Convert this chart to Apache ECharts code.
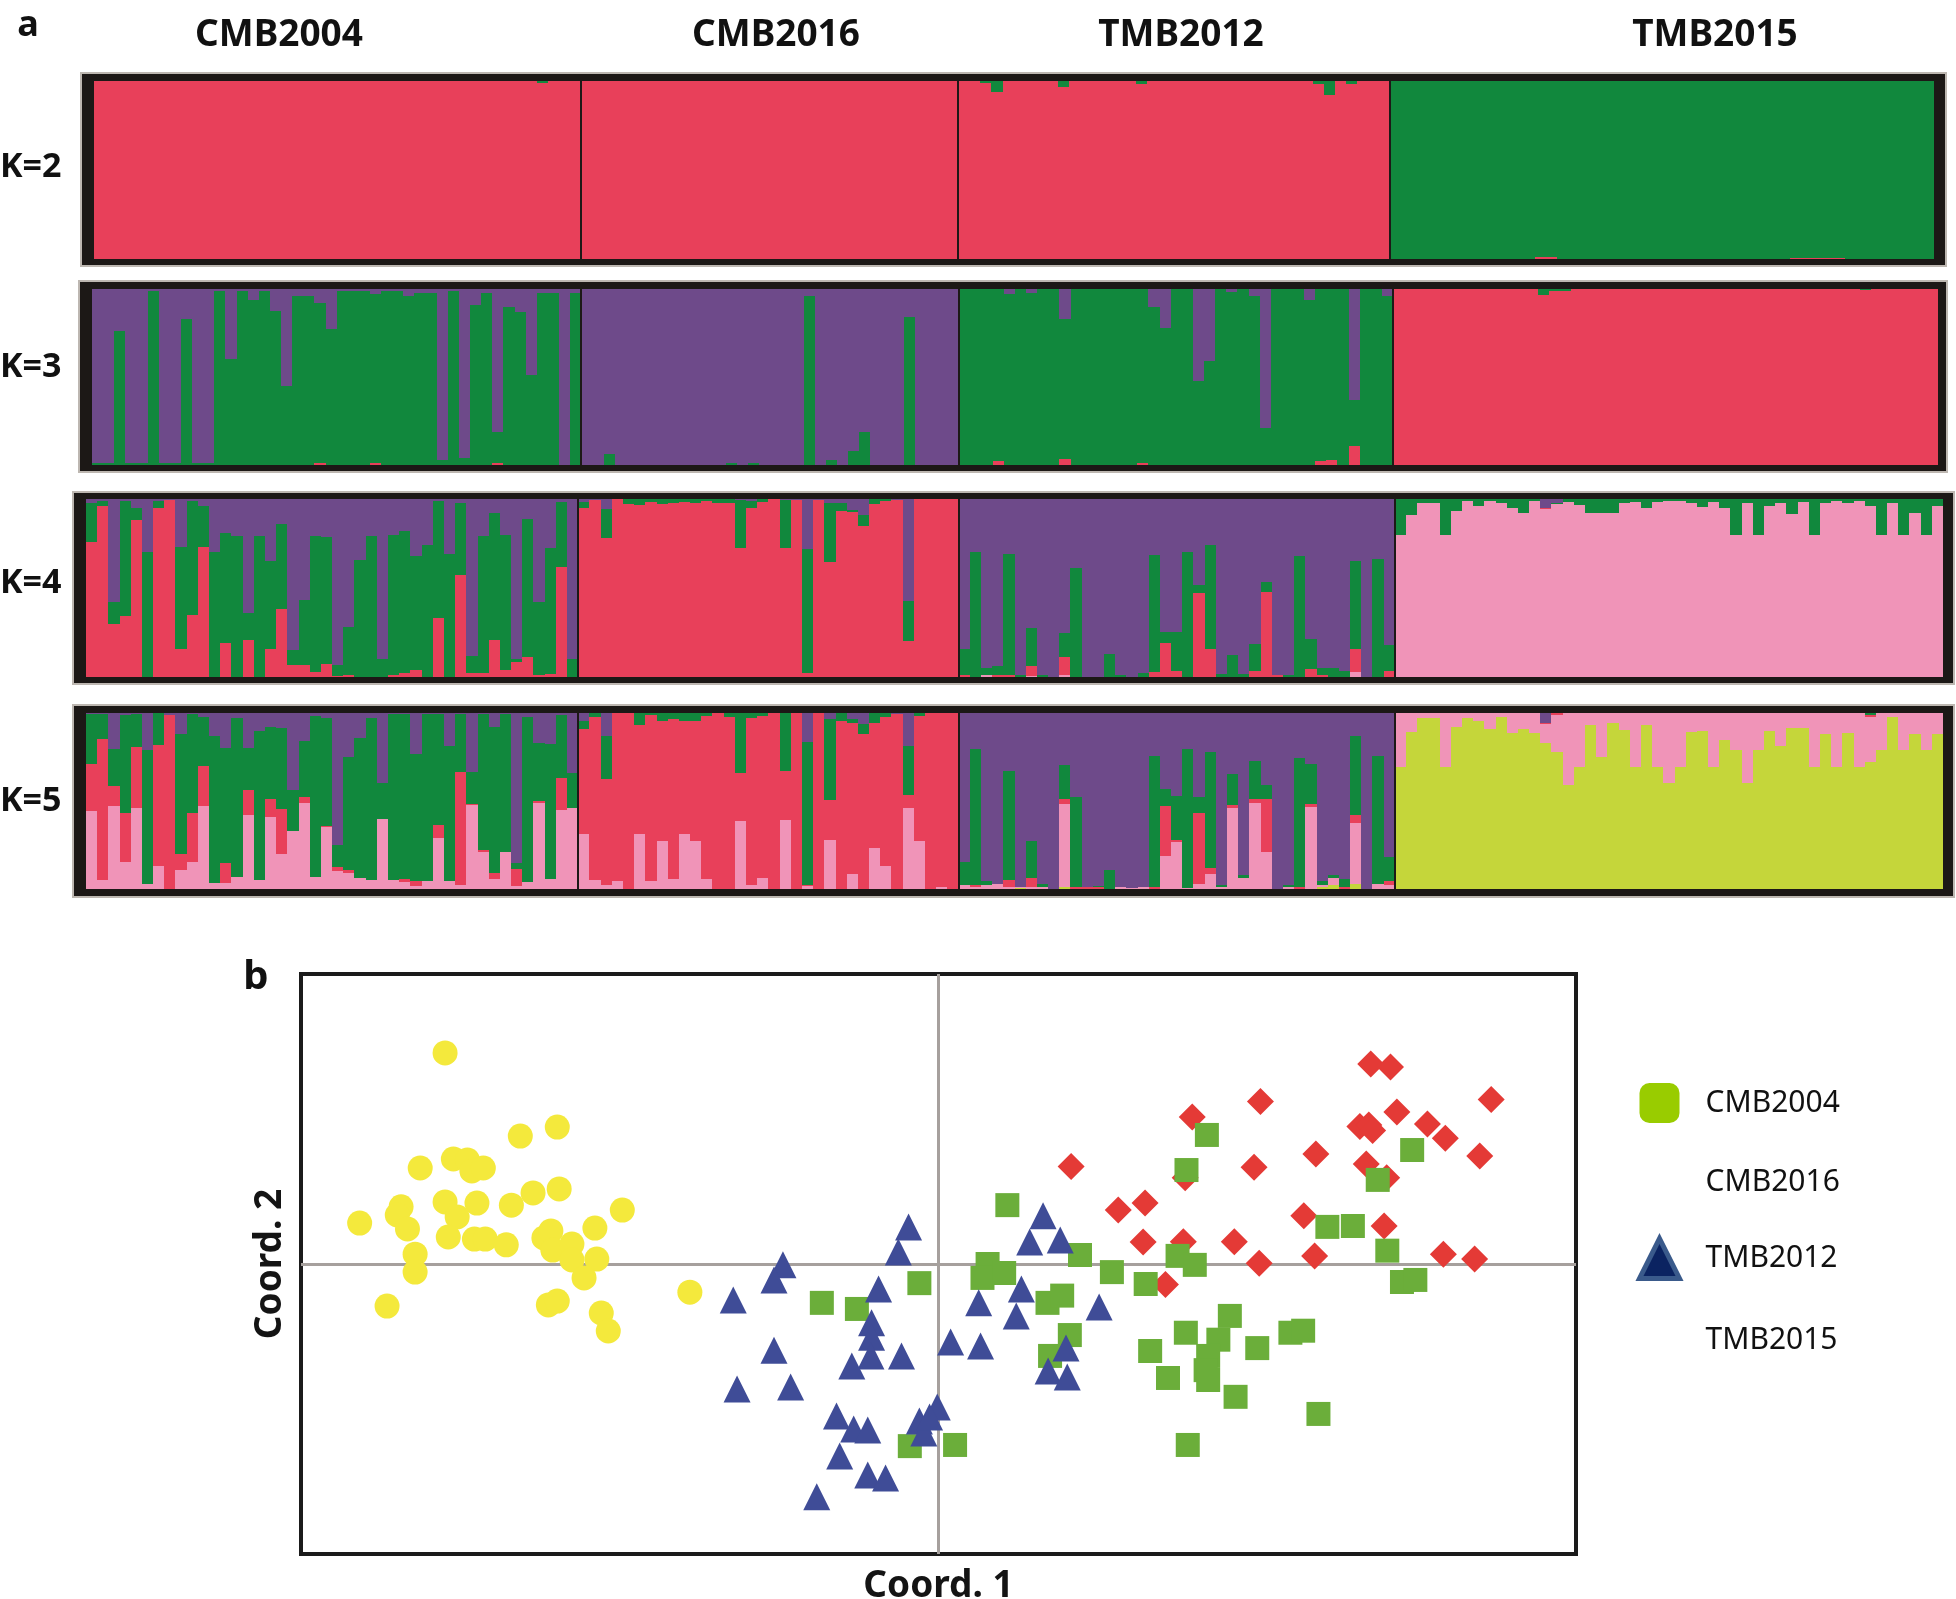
<!DOCTYPE html>
<html><head><meta charset="utf-8">
<script src="https://cdn.jsdelivr.net/npm/echarts@6/dist/echarts.min.js"></script>
<style>html,body{margin:0;padding:0;background:#fff;}#chart{width:1956px;height:1599px;}</style>
</head><body><div id="chart"></div>
<script>
// ---------------- DATA ----------------
const popNames = ['CMB2004', 'CMB2016', 'TMB2012', 'TMB2015'];
const popSizes = [44, 34, 39, 49];
const kLabels = ['K=2', 'K=3', 'K=4', 'K=5'];

// STRUCTURE membership coefficients, stacked bottom -> top; top cluster is the remainder to 1
// K=2 : red, (green)
const k2_red = [
  1,1,1,1,1,1,1,1,1,1, 1,1,1,1,1,1,1,1,1,1, 1,1,1,1,1,1,1,1,1,1, 1,1,1,1,1,1,1,1,1,1, 0.99,1,1,1,
  1,1,1,1,1,1,1,1,1,1, 1,1,1,1,1,1,1,1,1,1, 1,1,1,1,1,1,1,1,1,1, 1,1,1,1,
  1,1,0.99,0.94,1,1,1,1,1,0.965, 1,1,1,1,1,1,0.985,1,1,1, 1,1,1,1,1,1,1,1,1,1, 1,1,0.985,0.92,1,0.985,1,1,1,
  0,0,0,0,0,0,0,0,0,0, 0,0,0,0.01,0.01,0,0,0,0,0, 0,0,0,0,0,0,0,0,0,0, 0,0,0,0,0,0,0.005,0.005,0.005,0.005, 0.005,0,0,0,0,0,0,0,0
];
// K=3 : red, green, (purple)
const k3_red = [
  0,0,0,0,0,0,0,0,0,0, 0,0,0,0,0,0,0,0,0,0, 0.01,0,0,0,0,0.01,0,0,0,0, 0,0,0,0,0,0,0.01,0,0,0, 0,0,0,0,
  0,0,0,0,0,0,0,0,0,0, 0,0,0,0,0,0,0,0,0,0, 0,0,0,0,0,0,0,0,0,0, 0,0,0,0,
  0,0,0,0.02,0,0,0,0,0,0.035, 0,0,0,0,0,0,0.01,0,0,0, 0,0,0,0,0,0,0,0,0,0, 0,0,0.02,0.03,0,0.11,0,0,0,
  1,1,1,1,1,1,1,1,1,1, 1,1,1,0.965,0.99,0.99,1,1,1,1, 1,1,1,1,1,1,1,1,1,1, 1,1,1,1,1,1,1,1,1,1, 1,1,0.995,1,1,1,1,1,1
];
const k3_green = [
  0.01,0.01,0.76,0.01,0.01,0.99,0.01,0.01,0.83,0.01, 0.01,0.99,0.60,0.99,0.94,0.99,0.875,0.45,0.96,0.96,
  0.91,0.77,0.99,0.99,0.99,0.96,0.99,0.99,0.96,0.98, 0.98,0.03,0.99,0.04,0.91,0.98,0.18,0.90,0.87,0.51, 0.98,0.98,0,0.98,
  0,0,0.06,0,0,0,0,0,0,0, 0,0,0,0.01,0,0.01,0,0,0,0, 0.96,0,0.03,0,0.08,0.19,0,0,0,0.84, 0,0,0,0,
  1,1,1,0.98,0.97,1,0.975,1,1,0.795, 1,1,1,1,1,1,0.99,0.90,0.78,1, 1,0.48,0.59,1,0.985,1,0.96,0.21,1,1, 1,0.94,0.98,0.97,1,0.26,1,1,0.96,
  0,0,0,0,0,0,0,0,0,0, 0,0,0,0.035,0.01,0.01,0,0,0,0, 0,0,0,0,0,0,0,0,0,0, 0,0,0,0,0,0,0,0,0,0, 0,0,0.005,0,0,0,0,0,0
];
// K=4 : pink, red, green, (purple)
const k4_pink = [
  0,0,0,0,0,0,0,0,0,0, 0,0,0,0,0,0,0,0,0,0, 0,0,0,0,0,0,0,0,0,0, 0,0,0,0,0,0,0,0,0,0, 0,0,0,0,
  0,0,0,0,0,0,0,0,0,0, 0,0,0,0,0,0,0,0,0,0, 0,0,0,0,0,0,0,0,0,0, 0,0,0,0,
  0,0,0.01,0,0,0,0.005,0,0,0.01, 0,0,0,0,0,0,0,0,0,0, 0,0,0,0,0,0,0,0,0,0, 0,0,0,0,0,0.03,0,0,0,
  0.80,0.91,0.975,0.98,0.80,0.93,0.99,0.96,0.99,0.975, 0.95,0.92,0.99,0.945,0.97,0.985,0.965,0.92,0.92,0.92,
  0.98,0.985,0.95,0.985,0.99,0.99,0.98,0.955,0.985,0.95, 0.80,0.975,0.80,0.96,0.975,0.915,0.985,0.80,0.98,0.99,
  0.98,0.99,0.96,0.80,0.98,0.80,0.92,0.80,0.96
];
const k4_red = [
  0.76,0.96,0.30,0.34,0.88,0,0.95,0.995,0.16,0.35, 0.73,0,0.19,0,0.21,0,0.16,0.38,0.07,0.07,
  0.03,0.075,0.005,0.01,0,0,0,0.01,0.02,0.04, 0,0.33,0,0.575,0.02,0.02,0.21,0.04,0.085,0.11, 0.01,0.015,0.62,0,
  0.95,0.995,0.78,1,0.97,0.965,0.985,0.97,0.98,0.985, 0.98,0.99,0.975,0.98,0.725,0.95,0.985,1,0.725,0.995,
  0.02,0.995,0.645,0.93,0.925,0.85,0.97,0.99,0.995,0.20, 1,1,1,1,
  0.01,0,0,0.01,0.01,0,0.055,0,0,0.105, 0,0,0,0,0,0,0,0.03,0.19,0.035, 0,0.47,0.16,0,0,0,0.035,0.48,0.01,0, 0,0.045,0.01,0,0,0.13,0,0,0.035,
  0,0,0,0,0,0,0,0,0,0, 0,0,0,0.005,0,0,0,0,0,0, 0,0,0,0,0,0,0,0,0,0, 0,0,0,0,0,0,0,0,0,0, 0,0,0,0,0,0,0,0,0
];
const k4_green = [
  0.215,0.03,0.12,0.65,0.07,0.70,0.04,0,0.57,0.64, 0.23,0.70,0.62,0.79,0.15,0.79,0.49,0.48,0.08,0.36,
  0.76,0.71,0.06,0.27,0.66,0.79,0.10,0.79,0.80,0.64, 0.74,0.66,0.69,0.405,0.10,0.77,0.71,0.76,0.015,0.78, 0.41,0.71,0.365,0.10,
  0.035,0,0.165,0,0.03,0.035,0.015,0.03,0.02,0.015, 0.02,0.01,0.025,0.02,0.27,0.04,0.015,0,0.27,0,
  0.70,0,0.33,0.05,0.015,0.06,0.03,0.01,0,0.225, 0,0,0,0,
  0.15,0.70,0.04,0.05,0.68,0.01,0.215,0.01,0,0.13, 0.61,0,0,0.13,0.01,0,0.025,0.655,0.065,0.22,
  0.70,0.045,0.58,0.015,0.125,0.015,0.15,0.055,0,0.01, 0.68,0.17,0.04,0.05,0.035,0.49,0,0.665,0.145,
  0.20,0.09,0.025,0.02,0.20,0.07,0.01,0.04,0.01,0.025, 0.05,0.08,0.01,0,0.01,0.015,0.035,0.08,0.08,0.08,
  0.02,0.015,0.05,0.015,0.01,0.01,0.02,0.045,0.015,0.05, 0.20,0.025,0.20,0.04,0.025,0.085,0.015,0.20,0.02,0.01,
  0.02,0.01,0.04,0.20,0.02,0.20,0.08,0.20,0.04
];
// K=5 : yellow-green, pink, red, green, (purple)
const k5_ygreen = [
  0,0,0,0,0,0,0,0,0,0, 0,0,0,0,0,0,0,0,0,0, 0,0,0,0,0,0,0,0,0,0, 0,0,0,0,0,0,0,0,0,0, 0,0,0,0,
  0,0,0,0,0,0,0,0,0,0, 0,0,0,0,0,0,0,0,0,0, 0,0,0,0,0,0,0,0,0,0, 0,0,0,0,
  0,0,0,0,0,0.005,0,0,0,0.013, 0,0,0,0,0,0,0,0,0,0, 0,0,0,0,0,0,0,0,0,0, 0,0,0.013,0.025,0,0.03,0,0,0,
  0.695,0.89,0.97,0.97,0.695,0.92,0.97,0.955,0.91,0.975, 0.885,0.91,0.885,0.83,0.78,0.59,0.695,0.93,0.75,0.945,
  0.905,0.695,0.93,0.695,0.60,0.695,0.89,0.90,0.695,0.845, 0.79,0.605,0.79,0.90,0.815,0.915,0.915,0.695,0.88,0.695,
  0.885,0.695,0.72,0.79,0.975,0.79,0.88,0.79,0.88
];
const k5_pink = [
  0.445,0.05,0.47,0.155,0.46,0.03,0.13,0,0.11,0.155, 0.47,0.035,0.035,0.07,0.42,0.05,0.41,0.20,0.33,0.49,
  0.07,0.35,0.105,0.09,0.06,0.05,0.40,0.05,0.04,0.015, 0.045,0.29,0.045,0.025,0.475,0.21,0.055,0.21,0.015,0.04, 0.49,0.055,0.45,0.46,
  0.31,0.05,0.025,0.045,0,0.315,0.045,0.27,0.055,0.315, 0.27,0.055,0,0,0.385,0.02,0.06,0,0.39,0,
  0.015,0,0.28,0,0.085,0,0.235,0.13,0,0.46, 0.27,0,0.01,0,
  0.02,0.013,0.023,0.026,0.01,0.005,0.013,0.01,0,0.47, 0,0,0,0,0.01,0.005,0.013,0,0.19,0.265,
  0.005,0.03,0.085,0.01,0.46,0.06,0.49,0.21,0,0.01, 0,0.465,0.01,0.035,0,0.345,0,0.03,0.025,
  0.305,0.11,0.03,0.03,0.305,0.08,0.03,0.045,0.09,0.025, 0.115,0.09,0.115,0.105,0.21,0.41,0.305,0.07,0.25,0.055,
  0.095,0.305,0.07,0.305,0.40,0.305,0.11,0.10,0.305,0.155, 0.21,0.395,0.21,0.10,0.185,0.085,0.085,0.305,0.12,0.305,
  0.115,0.305,0.26,0.21,0.025,0.21,0.12,0.21,0.12
];
const k5_red = [
  0.265,0.805,0.115,0.275,0.345,0,0.69,0.99,0.09,0.275, 0.23,0,0.115,0,0.145,0,0.10,0.255,0,0.035,
  0,0.01,0.02,0.02,0,0,0,0,0.015,0.03, 0,0.075,0,0.64,0.01,0.01,0.035,0,0.10,0, 0.01,0,0.18,0,
  0.60,0.925,0.60,0.955,1,0.615,0.945,0.685,0.91,0.64, 0.685,0.93,1,0.975,0.275,0.95,0.925,1,0.28,1,
  0.01,1,0.225,0.955,0.86,0.88,0.71,0.845,0.995,0.075, 0.715,1,0.99,1,
  0,0.01,0,0,0.04,0,0.05,0,0,0.03, 0.013,0.01,0.01,0,0,0,0,0.013,0.28,0.013,
  0,0.40,0.035,0,0.015,0,0.02,0.30,0,0, 0.01,0.02,0,0.005,0.013,0.045,0,0,0.02,
  0,0,0,0,0,0,0,0,0,0, 0,0,0,0.01,0.01,0,0,0,0,0, 0,0,0,0,0,0,0,0,0,0, 0,0,0,0,0,0,0,0,0,0, 0,0,0.01,0,0,0,0,0,0
];
const k5_green = [
  0.285,0.14,0.21,0.56,0.19,0.76,0.18,0,0.68,0.565, 0.28,0.835,0.65,0.90,0.235,0.85,0.41,0.46,0.23,0.315,
  0.915,0.61,0.125,0.64,0.80,0.92,0.20,0.945,0.94,0.72, 0.95,0.63,0.77,0.33,0.18,0.775,0.83,0.785,0.03,0.94, 0.33,0.77,0.36,0.20,
  0.045,0.025,0.245,0,0,0.07,0.01,0.045,0.035,0.045, 0.045,0.015,0,0.025,0.34,0.03,0.015,0,0.33,0,
  0.81,0,0.46,0.045,0.02,0.055,0.055,0.025,0,0.275, 0.015,0,0,0,
  0.135,0.775,0.02,0,0.62,0,0.21,0.02,0,0.19, 0.51,0,0.005,0.11,0,0,0,0.745,0.10,0.25,
  0.79,0.09,0.66,0.015,0.18,0.02,0.215,0.08,0,0.01, 0.735,0.225,0.02,0.015,0.045,0.45,0,0.725,0.135,
  0,0,0,0,0,0,0,0,0,0, 0,0,0,0,0,0,0,0,0,0, 0,0,0,0,0,0,0,0,0,0, 0,0,0,0,0,0,0,0,0,0, 0,0,0.01,0,0,0,0,0,0
];

// PCoA coordinates [Coord.1, Coord.2]
const pcoaCMB2004 = [[-0.183,-0.134],[-0.128,-0.155],[-0.030,-0.066],[-0.045,-0.628],[0.026,-0.624],[0.108,0.203],[0.077,0.000],[0.069,-0.048],[0.103,-0.031],[0.222,0.031],[0.272,-0.028],[0.325,-0.069],[0.375,0.028],[0.402,-0.003],[0.171,-0.134],[0.194,-0.109],[0.206,-0.245],[0.175,-0.317],[0.421,0.445],[0.389,0.324],[0.610,0.128],[0.650,0.131],[0.689,0.290],[0.743,0.393],[0.704,0.046],[0.727,-0.062],[0.748,-0.055],[0.332,-0.300],[0.388,-0.237],[0.457,-0.179],[0.439,-0.261],[0.423,-0.317],[0.419,-0.366],[0.423,-0.400],[0.360,-0.393],[0.500,-0.290],[0.552,-0.237],[0.572,-0.230],[0.466,-0.458],[0.596,-0.517],[0.391,-0.624]];
const pcoaCMB2016 = [[0.678,0.690],[0.709,0.679],[0.505,0.560],[0.867,0.567],[0.398,0.507],[0.719,0.524],[0.661,0.474],[0.675,0.479],[0.681,0.460],[0.767,0.483],[0.795,0.434],[0.208,0.336],[0.495,0.334],[0.592,0.379],[0.849,0.372],[0.671,0.345],[0.703,0.297],[0.387,0.297],[0.282,0.186],[0.324,0.210],[0.573,0.166],[0.699,0.131],[0.321,0.076],[0.384,0.077],[0.464,0.077],[0.590,0.028],[0.503,0.003],[0.792,0.034],[0.841,0.017],[0.356,-0.071]];
const pcoaTMB2012 = [[-0.047,0.128],[-0.063,0.041],[-0.244,-0.003],[-0.258,-0.055],[-0.322,-0.124],[-0.094,-0.086],[-0.105,-0.203],[-0.105,-0.253],[-0.106,-0.317],[-0.136,-0.352],[-0.058,-0.317],[-0.258,-0.297],[-0.316,-0.431],[-0.232,-0.424],[-0.160,-0.524],[-0.133,-0.569],[-0.111,-0.572],[-0.155,-0.662],[-0.111,-0.728],[-0.083,-0.738],[-0.191,-0.803],[-0.030,-0.541],[-0.023,-0.583],[-0.002,-0.493],[-0.014,-0.528],[0.164,0.166],[0.143,0.076],[0.191,0.083],[0.130,-0.086],[0.063,-0.134],[0.122,-0.179],[0.252,-0.148],[0.019,-0.269],[0.066,-0.283],[0.200,-0.290],[0.172,-0.369],[0.202,-0.390]];
const pcoaTMB2015 = [[-0.774,0.728],[-0.656,0.441],[-0.598,0.472],[-0.813,0.331],[-0.761,0.362],[-0.739,0.359],[-0.732,0.321],[-0.714,0.331],[-0.908,0.141],[-0.843,0.197],[-0.849,0.169],[-0.833,0.121],[-0.774,0.214],[-0.724,0.210],[-0.670,0.203],[-0.636,0.245],[-0.595,0.259],[-0.496,0.186],[-0.755,0.162],[-0.769,0.093],[-0.728,0.086],[-0.711,0.086],[-0.678,0.066],[-0.619,0.090],[-0.608,0.114],[-0.605,0.048],[-0.575,0.069],[-0.539,0.124],[-0.575,0.014],[-0.536,0.017],[-0.556,-0.048],[-0.821,0.034],[-0.821,-0.028],[-0.865,-0.145],[-0.612,-0.141],[-0.598,-0.128],[-0.529,-0.169],[-0.518,-0.231],[-0.390,-0.097]];

// ---------------- STYLE / LAYOUT ----------------
const FONT = '"Noto Sans", "DejaVu Sans", sans-serif';
const COL = {ygreen:'#C5D63A', pink:'#F094B8', red:'#E8405A', green:'#11883D', purple:'#6E4A8A'};
const panels = [
  {layers:[k2_red], colors:[COL.red, COL.green], inner:[93.6,81,1933.6,259], outer:[81,73,1946,266], labelY:167},
  {layers:[k3_red,k3_green], colors:[COL.red, COL.green, COL.purple], inner:[92,289,1938,465], outer:[79,281,1947,472], labelY:367},
  {layers:[k4_pink,k4_red,k4_green], colors:[COL.pink, COL.red, COL.green, COL.purple], inner:[86,499,1943,677], outer:[73,492,1954,684], labelY:583},
  {layers:[k5_ygreen,k5_pink,k5_red,k5_green], colors:[COL.ygreen, COL.pink, COL.red, COL.green, COL.purple], inner:[86,713,1943,889], outer:[73,705,1954,897], labelY:801}
];
const popLabelX = [279, 776, 1181, 1715];

const N = popSizes.reduce((a,b)=>a+b,0);
const popStarts = [];
{ let c = 0; for (let p = 0; p < popSizes.length - 1; p++) { c += popSizes[p]; popStarts.push(c); } }

function makeRender(colors) {
  return function (params, api) {
    const i = api.value(0);
    const xl = Math.round(api.coord([i - 0.5, 0])[0]);
    const xr = Math.round(api.coord([i + 0.5, 0])[0]);
    const children = [];
    let cum = 0;
    for (let k = 0; k < colors.length; k++) {
      const v = api.value(k + 1);
      const y0 = Math.round(api.coord([i, cum])[1]);
      cum = Math.min(1, cum + v);
      const y1 = Math.round(api.coord([i, cum])[1]);
      if (y0 - y1 > 0) children.push({type:'rect', shape:{x:xl, y:y1, width:xr - xl, height:y0 - y1}, style:{fill:colors[k]}});
    }
    if (popStarts.indexOf(i) >= 0) {
      const yt = api.coord([i, 1])[1], yb = api.coord([i, 0])[1];
      children.push({type:'rect', shape:{x:xl - 1, y:yt, width:2, height:yb - yt}, style:{fill:'#1d1917'}});
    }
    return {type:'group', children};
  };
}

const grids = [], xAxes = [], yAxes = [], series = [], graphics = [];
panels.forEach((p, pi) => {
  const [l, t, r, b] = p.inner;
  grids.push({left:l, top:t, width:r - l, height:b - t, outerBoundsMode:'none', containLabel:false});
  xAxes.push({type:'value', gridIndex:pi, min:-0.5, max:N - 0.5, show:false});
  yAxes.push({type:'value', gridIndex:pi, min:0, max:1, show:false});
  const rows = [];
  for (let i = 0; i < N; i++) {
    const vals = p.layers.map(a => a[i]);
    const s = vals.reduce((a,c)=>a+c,0);
    rows.push([i, ...vals, Math.max(0, 1 - s)]);
  }
  series.push({type:'custom', xAxisIndex:pi, yAxisIndex:pi, renderItem:makeRender(p.colors), data:rows, silent:true, z:2});
  const [ol, ot, or, ob] = p.outer;
  graphics.push({type:'rect', z:0, shape:{x:ol, y:ot, width:or - ol, height:ob - ot}, style:{fill:'#1c1816', stroke:'#bdb7b1', lineWidth:2}});
  graphics.push({type:'text', z:5, x:0, y:p.labelY, style:{text:kLabels[pi], font:'bold 34px ' + FONT, fill:'#111', align:'left', verticalAlign:'middle'}});
});
popNames.forEach((n, k) => {
  graphics.push({type:'text', z:5, x:popLabelX[k], y:35, style:{text:n, font:'bold 37px ' + FONT, fill:'#111', align:'center', verticalAlign:'middle'}});
});
graphics.push({type:'text', z:5, x:28, y:26, style:{text:'a', font:'bold 36px ' + FONT, fill:'#111', align:'center', verticalAlign:'middle'}});
graphics.push({type:'text', z:5, x:256, y:978, style:{text:'b', font:'bold 40px ' + FONT, fill:'#111', align:'center', verticalAlign:'middle'}});

// PCoA grid
const SG = grids.length;
grids.push({left:301, top:974, width:1275, height:580, show:true, borderColor:'#1b1b1b', borderWidth:4, backgroundColor:'#fff', outerBoundsMode:'none', containLabel:false});
const nameStyle = {fontSize:37, fontWeight:'bold', color:'#141414', fontFamily:FONT};
const split = {show:true, showMinLine:false, showMaxLine:false, lineStyle:{color:'#A6A09D', width:3}};
xAxes.push({type:'value', gridIndex:SG, min:-1, max:1, interval:1, axisLine:{show:false}, axisTick:{show:false}, axisLabel:{show:false}, splitLine:split,
  name:'Coord. 1', nameLocation:'middle', nameGap:14, nameTextStyle:nameStyle});
yAxes.push({type:'value', gridIndex:SG, min:-1, max:1, interval:1, axisLine:{show:false}, axisTick:{show:false}, axisLabel:{show:false}, splitLine:split,
  name:'Coord. 2', nameLocation:'middle', nameRotate:90, nameGap:12, nameTextStyle:nameStyle});

series.push({name:'CMB2016', type:'scatter', xAxisIndex:xAxes.length-1, yAxisIndex:yAxes.length-1, data:pcoaCMB2016, symbol:'diamond', symbolSize:27, itemStyle:{color:'#E43A36', opacity:1}, z:3});
series.push({name:'CMB2004', type:'scatter', xAxisIndex:xAxes.length-1, yAxisIndex:yAxes.length-1, data:pcoaCMB2004, symbol:'rect', symbolSize:24, itemStyle:{color:'#6BAE3A', opacity:1}, z:4});
series.push({name:'TMB2012', type:'scatter', xAxisIndex:xAxes.length-1, yAxisIndex:yAxes.length-1, data:pcoaTMB2012, symbol:'triangle', symbolSize:27, itemStyle:{color:'#3F4C97', opacity:1}, z:5});
series.push({name:'TMB2015', type:'scatter', xAxisIndex:xAxes.length-1, yAxisIndex:yAxes.length-1, data:pcoaTMB2015, symbol:'circle', symbolSize:25, itemStyle:{color:'#F4E93C', opacity:1}, z:6});

const chart = echarts.init(document.getElementById('chart'), null, {renderer:'canvas'});
chart.setOption({
  backgroundColor:'#ffffff',
  animation:false,
  grid:grids, xAxis:xAxes, yAxis:yAxes, series:series,
  graphic:graphics,
  legend:{
    orient:'vertical', left:1632, top:1078, itemWidth:40, itemHeight:40, itemGap:39, selectedMode:false,
    textStyle:{fontSize:30, color:'#111', fontFamily:FONT, padding:[0,0,0,21]},
    data:[
      {name:'CMB2004', icon:'roundRect', itemStyle:{color:'#99CC00'}},
      {name:'CMB2016', icon:'none'},
      {name:'TMB2012', icon:'triangle', itemStyle:{color:'#0B2361', borderColor:'#3A5A8B', borderWidth:5}},
      {name:'TMB2015', icon:'none'}
    ]
  }
});
</script></body></html>
